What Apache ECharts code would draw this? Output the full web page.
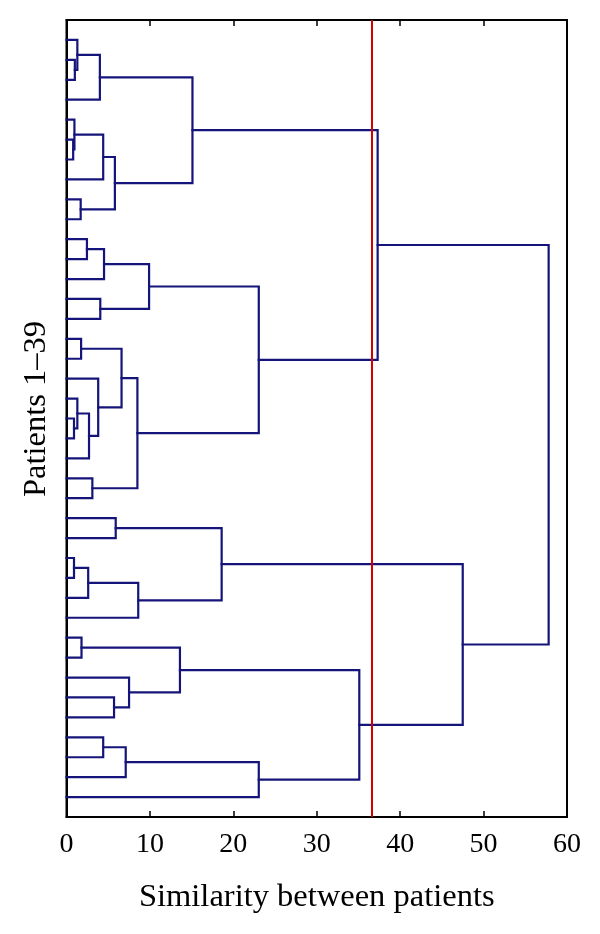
<!DOCTYPE html>
<html><head><meta charset="utf-8">
<script src="https://cdn.jsdelivr.net/npm/echarts@6/dist/echarts.min.js"></script>
<style>html,body{margin:0;padding:0;background:#fff}#c{width:600px;height:934px}</style>
</head><body><div id="c"></div><script>
// Leaves numbered from top (L1) to bottom (L39)
const leafCount = 39;
const mergeA = ['L2','L1','N2','L6','L5','N5','L9','N6','N3','L11','N10','L14','N11','L16','L20','L19','N16','L18','N14','L23','N19','N13','N9','L25','L27','N25','N26','N24','L31','L34','L33','N29','L36','N33','N34','N32','N28','N23'];
const mergeB = ['L3','N1','L4','L7','N4','L8','L10','N7','N8','L12','L13','L15','N12','L17','L21','N15','L22','N17','N18','L24','N20','N21','N22','L26','L28','L29','L30','N27','L32','L35','N30','N31','L37','L38','L39','N35','N36','N37'];
const mergeHeight = [1.0,1.3,4.0,0.8,0.95,4.4,1.7,5.8,15.1,2.45,4.5,4.05,9.9,1.75,0.9,1.3,2.7,3.8,6.6,3.1,8.5,23.05,37.3,5.9,0.9,2.6,8.6,18.6,1.8,5.7,7.5,13.6,4.4,7.1,23.05,35.1,47.5,57.8];
const xTicks = [0,10,20,30,40,50,60];
const cutoff = 36.6;
const xTitle = 'Similarity between patients';
const yTitle = 'Patients 1\u201339';

const nodes = {};
function pos(id){
  if (id[0] === 'L') { const t = +id.slice(1); return {x:0, y:(leafCount + 1) - t}; }
  return nodes[id];
}
const segs = [];
for (let i = 0; i < mergeA.length; i++) {
  const a = pos(mergeA[i]), b = pos(mergeB[i]), h = mergeHeight[i];
  segs.push({coords:[[a.x,a.y],[h,a.y],[h,b.y],[b.x,b.y]]});
  nodes['N' + (i + 1)] = {x:h, y:(a.y + b.y) / 2};
}

const FONT = '"Liberation Serif", "DejaVu Serif", serif';
const chart = echarts.init(document.getElementById('c'), null, {renderer:'canvas'});
chart.setOption({
  animation:false,
  backgroundColor:'#fff',
  grid:{left:66.5, right:33, top:20, bottom:117, show:true, borderColor:'#000', borderWidth:2, backgroundColor:'transparent'},
  xAxis:[{
    type:'value', min:0, max:60, interval:10, position:'bottom',
    axisLine:{show:true, onZero:false, lineStyle:{color:'#000', width:2}},
    axisTick:{show:true, inside:true, length:6, customValues:xTicks, lineStyle:{color:'#000', width:1.5}},
    axisLabel:{show:true, color:'#000', fontSize:28, fontFamily:FONT, margin:14, customValues:xTicks},
    splitLine:{show:false},
    name:xTitle, nameLocation:'middle', nameGap:64,
    nameTextStyle:{color:'#000', fontSize:32.5, fontFamily:FONT}
  },{
    type:'value', min:0, max:60, interval:10, position:'top',
    axisLine:{show:true, onZero:false, lineStyle:{color:'#000', width:2}},
    axisTick:{show:true, inside:true, length:6, customValues:xTicks, lineStyle:{color:'#000', width:1.5}},
    axisLabel:{show:false}, splitLine:{show:false}
  }],
  yAxis:{
    type:'value', min:0, max:leafCount + 1,
    axisLine:{show:true, onZero:false, lineStyle:{color:'#000', width:2}},
    axisTick:{show:false}, axisLabel:{show:false}, splitLine:{show:false}
  },
  graphic:[{
    type:'text', x:36, y:409, rotation:Math.PI/2,
    style:{text:yTitle, font:'32.5px ' + FONT, fill:'#000', textAlign:'center', textVerticalAlign:'middle', align:'center', verticalAlign:'middle'}
  }],
  series:[{
    type:'lines', coordinateSystem:'cartesian2d', xAxisIndex:0, yAxisIndex:0, polyline:true, silent:true,
    data:segs, lineStyle:{color:'#14147a', width:2.2, opacity:1, cap:'square', join:'miter'}, z:2
  },{
    type:'lines', coordinateSystem:'cartesian2d', xAxisIndex:0, yAxisIndex:0, silent:true,
    data:[{coords:[[cutoff,0],[cutoff,leafCount + 1]]}], lineStyle:{color:'#d40000', width:2, opacity:1}, z:3
  }]
});
</script></body></html>
